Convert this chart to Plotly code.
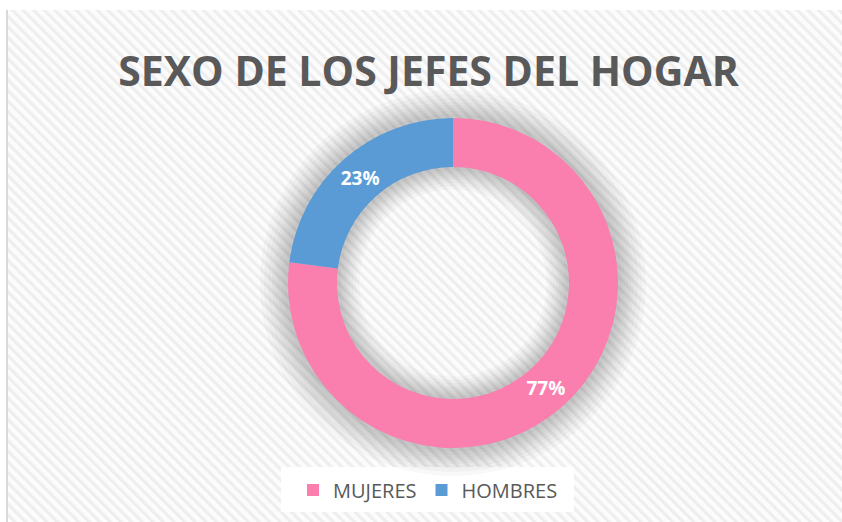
import base64
import plotly.graph_objects as go

# ---- data ----
categories = ["MUJERES", "HOMBRES"]
values = [77, 23]
colors = ["#FA7EAE", "#5B9BD5"]
title_text = "SEXO DE LOS JEFES DEL HOGAR"

# ---- layout geometry ----
W, H = 842, 522
cx, cy = 453, 283
R_out, R_in = 165, 116


def dom(r):
    return dict(x=[(cx - r) / W, (cx + r) / W],
                y=[(H - cy - r) / H, (H - cy + r) / H])


fig = go.Figure()

# soft shadow around the ring (stacked translucent rings)
for s in [28, 24, 20, 16, 13, 10, 7, 4]:
    ro = R_out + s
    ri = max(R_in - s * 0.8, 1)
    fig.add_trace(go.Pie(
        values=[1], labels=["shadow"], hole=ri / ro, domain=dom(ro),
        marker=dict(colors=["rgba(0,0,0,0.026)"], line=dict(width=0)),
        textinfo="none", hoverinfo="skip", showlegend=False, sort=False,
    ))

fig.add_trace(go.Pie(
    labels=categories, values=values, hole=R_in / R_out, domain=dom(R_out),
    sort=False, direction="clockwise", rotation=0,
    marker=dict(colors=colors, line=dict(width=0)),
    texttemplate="%{percent:.0%}", textposition="inside",
    insidetextorientation="horizontal",
    textfont=dict(family="Open Sans", size=19, color="white", weight="bold"),
    hoverinfo="label+percent",
))

svg = (
    '<svg xmlns="http://www.w3.org/2000/svg" width="842" height="522">'
    '<defs><pattern id="p" width="7.5" height="7.5" patternUnits="userSpaceOnUse" '
    'patternTransform="rotate(-45)">'
    '<rect width="7.5" height="7.5" fill="#fcfcfc"/>'
    '<rect width="3.2" height="7.5" fill="#eeeeee"/></pattern></defs>'
    '<rect width="842" height="522" fill="#ffffff"/>'
    '<rect x="8" y="10" width="834" height="512" fill="url(#p)"/>'
    '<rect x="6" y="10" width="2" height="512" fill="#d9d9d9"/>'
    '</svg>'
)
src = "data:image/svg+xml;base64," + base64.b64encode(svg.encode()).decode()

fig.update_layout(
    width=W, height=H,
    margin=dict(l=0, r=0, t=0, b=0),
    paper_bgcolor="white", plot_bgcolor="white",
    images=[dict(source=src, xref="paper", yref="paper", x=0, y=1,
                 sizex=1, sizey=1, xanchor="left", yanchor="top",
                 sizing="stretch", layer="below")],
    shapes=[dict(type="rect", xref="paper", yref="paper",
                 x0=281 / W, x1=574 / W, y0=1 - 512 / H, y1=1 - 467 / H,
                 fillcolor="white", line=dict(width=0), layer="below")],
    title=dict(text=title_text, x=428.5 / W, xanchor="center",
               y=1 - 72 / H, yanchor="middle",
               font=dict(family="Open Sans", size=41, color="#595959", weight="bold")),
    legend=dict(orientation="h", x=293 / W, xanchor="left",
                y=1 - 490 / H, yanchor="middle",
                bgcolor="rgba(0,0,0,0)",
                font=dict(family="Open Sans", size=20, color="#595959")),
)

fig.write_html("out.html", post_script="document.body.style.margin='0';",
               config={"displayModeBar": False})
